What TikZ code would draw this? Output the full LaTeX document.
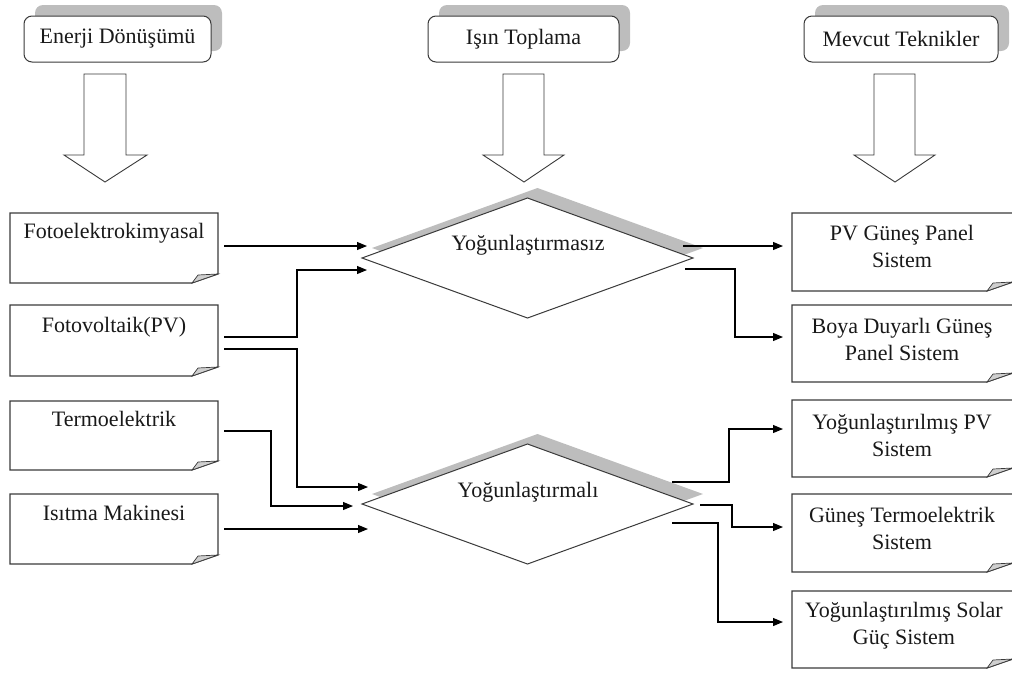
\documentclass[tikz,border=0pt]{standalone}
\usepackage{fontspec}
\setmainfont{Liberation Serif}
\usetikzlibrary{calc,shapes.geometric,shadows,arrows.meta}
\definecolor{lineg}{HTML}{3A3A3A}
\definecolor{shadowg}{HTML}{BDBDBD}
\definecolor{foldg}{HTML}{CFCFCF}
\tikzset{
  hdr/.style={draw=lineg, line width=1pt, rounded corners=8pt, fill=white,
    general shadow={fill=shadowg, shadow xshift=11pt, shadow yshift=11pt},
    minimum height=46pt, inner sep=0pt, text=black!90},
  blk/.style={draw=lineg, line width=0.9pt, fill=white, line join=miter},
  notebox/.style={draw=none, inner sep=0pt, outer sep=0pt},
  noteline/.style={draw=lineg, line width=1.1pt, line join=miter},
  foldline/.style={draw=lineg, line width=0.7pt, fill=foldg},
  dia/.style={diamond, draw=lineg, line width=1pt, fill=white, aspect=2.76,
    minimum width=331pt, minimum height=120pt, inner sep=0pt, outer sep=0pt,
    general shadow={fill=shadowg, shadow xshift=10pt, shadow yshift=10pt}},
  txt/.style={inner sep=0pt, text=black!90, align=center},
  conn/.style={draw=black, line width=1.1pt, -{Triangle[length=10pt,width=8pt]}},
}
\newcommand\drawnote[1]{%
  \draw[noteline] (#1.north west) -- (#1.north east) -- ($(#1.south east)+(0,-9)$)
     -- ($(#1.south east)+(-26,0)$) -- (#1.south west) -- cycle;
  \draw[foldline] ($(#1.south east)+(-26,0)$) -- ($(#1.south east)+(-20,-8)$)
     -- ($(#1.south east)+(0,-9)$) -- cycle;
}
\begin{document}
\begin{tikzpicture}[x=1pt,y=-1pt, font=\fontsize{22}{27}\selectfont]
\useasboundingbox (0,0) rectangle (1012,673);

% headers
\node[hdr, minimum width=187pt] (h1) at (117.5,39) {Enerji Dönüşümü};
\node[hdr, minimum width=191pt] (h2) at (523.5,39) {Işın Toplama};
\node[hdr, minimum width=194pt] (h3) at (901,39) {Mevcut Teknikler};

% block arrows
\draw[blk] (84,74) -- (126,74) -- (126,155) -- (147,155) -- (105,182) -- (64,155) -- (84,155) -- cycle;
\draw[blk] (503,74) -- (544,74) -- (544,155) -- (564,155) -- (524,182) -- (483,155) -- (503,155) -- cycle;
\draw[blk] (874,74) -- (915,74) -- (915,155) -- (935,155) -- (895,182) -- (854,155) -- (874,155) -- cycle;

% left boxes
\node[notebox, minimum width=208pt, minimum height=70pt] (f1) at (114,248) {};
\node[notebox, minimum width=208pt, minimum height=71pt] (f2) at (114,340.5) {};
\node[notebox, minimum width=208pt, minimum height=69pt] (f3) at (114,435.5) {};
\node[notebox, minimum width=208pt, minimum height=70pt] (f4) at (114,529) {};
\drawnote{f1}\drawnote{f2}\drawnote{f3}\drawnote{f4}
\node[txt] (f1t) at (114,233) {Fotoelektrokimyasal};
\node[txt] (f2t) at (114,327) {Fotovoltaik(PV)};
\node[txt] (f3t) at (114,419) {Termoelektrik};
\node[txt] (f4t) at (114,513) {Isıtma Makinesi};

% diamonds
\node[dia] (d1) at (527.5,258) {};
\node[txt] (d1t) at (528,245) {Yoğunlaştırmasız};
\node[dia] (d2) at (527.5,504) {};
\node[txt] (d2t) at (528,492) {Yoğunlaştırmalı};

% right boxes
\node[notebox, minimum width=221pt, minimum height=78pt] (r1) at (902.5,252) {};
\node[notebox, minimum width=221pt, minimum height=77pt] (r2) at (902.5,343.5) {};
\node[notebox, minimum width=221pt, minimum height=77pt] (r3) at (902.5,438.5) {};
\node[notebox, minimum width=221pt, minimum height=78pt] (r4) at (902.5,533) {};
\node[notebox, minimum width=221pt, minimum height=77pt] (r5) at (902.5,629.5) {};
\drawnote{r1}\drawnote{r2}\drawnote{r3}\drawnote{r4}\drawnote{r5}
\node[txt] (r1t) at (902,246.5) {PV Güneş Panel\\Sistem};
\node[txt] (r2t) at (902,339) {Boya Duyarlı Güneş\\Panel Sistem};
\node[txt] (r3t) at (902,435) {Yoğunlaştırılmış PV\\Sistem};
\node[txt] (r4t) at (902,528.5) {Güneş Termoelektrik\\Sistem};
\node[txt] (r5t) at (904,626) {Yoğunlaştırılmış Solar\\Güç Sistem};

% connectors left -> diamonds
\draw[conn] ($(f1.east)+(6,-2)$) -- ($(d1.west)+(5,-12)$);
\draw[conn] ($(f2.east)+(6,-3.5)$) -| ($(d1.west)+(-65,12)$) -- ($(d1.west)+(5,12)$);
\draw[conn] ($(f2.east)+(6,8.5)$) -| ($(d2.west)+(-65,-17)$) -- ($(d2.west)+(6,-17)$);
\draw[conn] ($(f3.east)+(6,-4.5)$) -| ($(d2.west)+(-91,2)$) -- ($(d2.west)+(-9,2)$);
\draw[conn] ($(f4.east)+(6,0)$) -- ($(d2.west)+(6,25)$);

% connectors diamonds -> right
\draw[conn] ($(d1.east)+(-10,-12)$) -- ($(r1.west)+(-9,-6)$);
\draw[conn] ($(d1.east)+(-8,11)$) -| ($(r2.west)+(-57,-6.5)$) -- ($(r2.west)+(-9,-6.5)$);
\draw[conn] ($(d2.east)+(-21,-22)$) -| ($(r3.west)+(-63,-9.5)$) -- ($(r3.west)+(-9,-9.5)$);
\draw[conn] ($(d2.east)+(7,1)$) -| ($(r4.west)+(-60,-6)$) -- ($(r4.west)+(-9,-6)$);
\draw[conn] ($(d2.east)+(-21,19)$) -| ($(r5.west)+(-74,-7.5)$) -- ($(r5.west)+(-9,-7.5)$);
\end{tikzpicture}
\end{document}
